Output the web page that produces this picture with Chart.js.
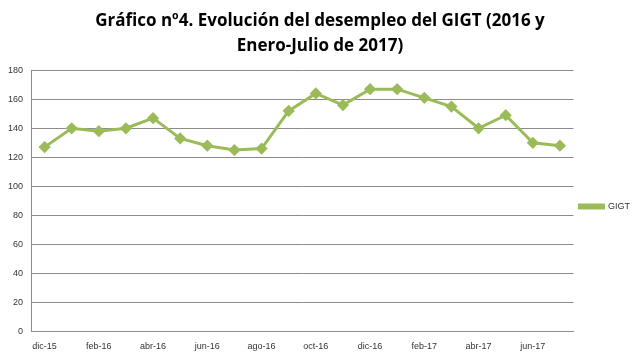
<!DOCTYPE html>
<html><head><meta charset="utf-8">
<script src="https://cdn.jsdelivr.net/npm/chart.js@4/dist/chart.umd.min.js"></script>
<style>html,body{margin:0;padding:0;background:#fff}#wrap{width:640px;height:357px}</style>
</head><body><div id="wrap"><canvas id="c" width="640" height="357"></canvas></div>
<script>
const categories = ["dic-15","ene-16","feb-16","mar-16","abr-16","may-16","jun-16","jul-16","ago-16","sep-16","oct-16","nov-16","dic-16","ene-17","feb-17","mar-17","abr-17","may-17","jun-17","jul-17"];
const gigtValues = [127,140,138,140,147,133,128,125,126,152,164,156,167,167,161,155,140,149,130,128];
const yTicks = {min:0,max:180,step:20};
const titleLines = ["Gráfico nº4. Evolución del desempleo del GIGT (2016 y","Enero-Julio de 2017)"];
const seriesName = "GIGT";
const green = "#9bbb59";

new Chart(document.getElementById('c'), {
  type: 'line',
  data: { labels: categories, datasets: [{
    label: seriesName, data: gigtValues, borderColor: green, backgroundColor: green,
    borderWidth: 3, pointStyle: 'rectRot', pointRadius: 4, pointHoverRadius: 4,
    pointBackgroundColor: green, pointBorderColor: green, tension: 0
  }]},
  options: {
    responsive: false, animation: false,
    layout: { padding: { left: 0, right: 0, top: 0, bottom: -5 } },
    plugins: {
      title: { display: true, text: titleLines, color: '#000',
        font: { family: 'Open Sans', size: 17, weight: 'bold', lineHeight: 1.45 }, padding: { top: 9, bottom: 12 } },
      legend: { position: 'right',
        title: { display: true, text: ' ', padding: 20, font: { size: 9 } },
        labels: { boxWidth: 24, boxHeight: 3, color: '#333',
        font: { family: 'Liberation Sans', size: 9 }, padding: 6 } },
      tooltip: { enabled: false }
    },
    scales: {
      x: { offset: true, grid: { display: false, drawTicks: false }, border: { color: '#8c8c8c' },
        ticks: { autoSkip: false, maxRotation: 0, color: '#333', padding: 10,
          font: { family: 'Liberation Sans', size: 9 },
          callback: function(v, i) { return i % 2 === 0 ? categories[i] : ''; } } },
      y: { min: yTicks.min, max: yTicks.max, grid: { color: '#8c8c8c', drawTicks: false },
        border: { color: '#8c8c8c' },
        ticks: { stepSize: yTicks.step, color: '#333', padding: 8, font: { family: 'Liberation Sans', size: 9 } } }
    }
  }
});
</script></body></html>
